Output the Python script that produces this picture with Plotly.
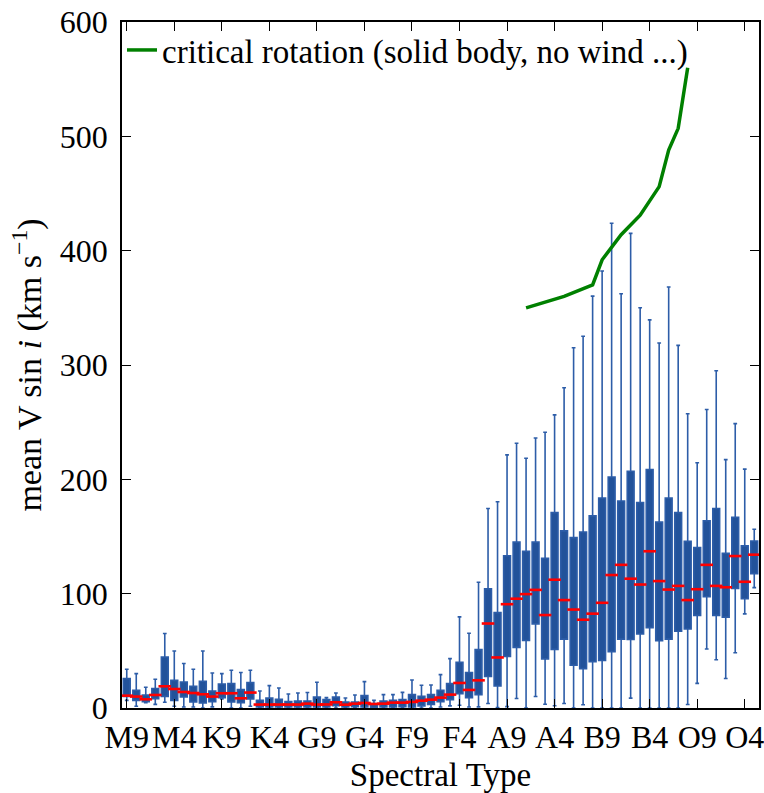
import plotly.graph_objects as go

# Spectral types from M9 down to O3
classes = ["M", "K", "G", "F", "A", "B"]
spectral_types = [c + str(n) for c in classes for n in range(9, -1, -1)] + ["O" + str(n) for n in range(9, 2, -1)]

tick_labels = ["M9", "M4", "K9", "K4", "G9", "G4", "F9", "F4", "A9", "A4", "B9", "B4", "O9", "O4"]

lower = [6.7, 1.5, 4.7, 3.2, 5, 1.5, 0.9, 0.9, 0, 1,
         7.9, 0, 0, 1.5, 0, 0, 0, 0, 0, 0,
         0, 0, 0, 0, 0, 0, 0, 0, 0, 0,
         0, 0, 0, 0.9, 1.9, 2.4, 0.9, 1, 3.9, 0.5,
         1.2, 8.3, 0, 10, 3.3, 2, 3.9, 0, 2.8, 0,
         0, 0, 0, 8.6, 0, 0, 0, 0, 0, 3,
         21.5, 51.6, 42.2, 25.8, 48.3, 82.3, 105.3]
q1 = [10.2, 6.7, 5.6, 8.2, 10.2, 6.7, 9.6, 5.3, 4.4, 5.6,
      9.1, 5.3, 4.7, 7.9, 0.9, 0.9, 0.9, 0.9, 0.9, 0.9,
      0.9, 0.9, 2.1, 0.9, 1.2, 1, 0.5, 0.9, 0.9, 1.2,
      0.9, 1.9, 3.2, 5.6, 7.3, 12.6, 9.1, 11.7, 27.5, 19.3,
      45, 53, 59, 73.6, 43, 51.3, 60.2, 37.4, 34.4, 40.4,
      41.5, 49.3, 60.2, 59.9, 64.7, 70.3, 58.8, 60.2, 67.1, 69.1,
      81, 97.3, 81, 79.5, 104.5, 95.5, 117.5]
median = [10.8, 10, 7.6, 11.4, 19, 16.6, 14, 13.1, 12, 10,
          12.9, 12.9, 8.5, 13.5, 3, 3, 3, 3, 3, 3.8,
          3, 3.1, 5, 2.9, 3.8, 4.4, 3.5, 3.8, 4.7, 4.7,
          5.3, 6.4, 7.3, 9.1, 11.7, 21.9, 15.8, 24.2, 73.9, 44.2,
          90.8, 95.6, 99.6, 103.3, 81.3, 112.2, 94.4, 86.1, 77.2, 82.5,
          92, 116.3, 125.2, 113.1, 108, 137.1, 111, 103.6, 106.8, 94.4,
          103.9, 125.2, 106.8, 105.6, 132.9, 110.4, 134.1]
q3 = [25.7, 15.5, 11.4, 17, 44.6, 24.2, 22.8, 19, 23.4, 14.9,
      21, 21.3, 16.1, 22.2, 6.7, 8.8, 7.6, 5.6, 6.1, 6.1,
      9.6, 7.4, 9.6, 5.3, 5.3, 10.8, 3.8, 6.1, 6.7, 7.3,
      11.7, 10.2, 11.7, 15.5, 21.3, 40, 31, 51.1, 104.2, 83.4,
      133.2, 145.1, 137.1, 145.1, 130.9, 170.9, 154.9, 149, 154, 168,
      183.7, 202.1, 181, 207.1, 179.8, 208.6, 162.6, 183.7, 170.9, 145.7,
      140.4, 163.8, 174.5, 135.3, 166.8, 141.8, 146]
upper = [33.9, 30.1, 18.1, 25.1, 65.1, 49.9, 38.9, 33.9, 49.9, 30.6,
         30.1, 33, 31, 33, 14.9, 19.6, 17.5, 12.3, 13.1, 13.5,
         22.5, 9.1, 13.1, 8.8, 11.4, 23.1, 6.7, 11.7, 11.7, 13.7,
         24.5, 19.9, 20.1, 29.2, 43.2, 79.7, 65.4, 110, 174.5, 180.4,
         221.4, 231.5, 218.4, 236.2, 241.2, 256.4, 280.1, 315.1, 325.2, 360.2,
         382.2, 424, 362.3, 415.1, 350.1, 339.5, 319.3, 368.2, 317.2, 257.3,
         214.5, 261.1, 295, 217.2, 248.7, 208.9, 156.4]

crit_types = ["A7", "A3", "A0", "B9", "B7", "B5", "B3", "B2", "B1", "B0"]
crit_values = [350, 360, 370, 392, 414, 431, 456, 488, 507, 560]

FONT = "Liberation Serif"

fig = go.Figure()
fig.add_trace(go.Box(
    x=spectral_types, q1=q1, median=median, q3=q3,
    lowerfence=lower, upperfence=upper,
    boxpoints=False, width=0.72, whiskerwidth=0.55,
    fillcolor="#22529a", line=dict(color="#2d5da8", width=1.6),
    showlegend=False, hoverinfo="skip",
))
fig.add_trace(go.Scatter(
    x=spectral_types, y=median, mode="markers",
    marker=dict(symbol="line-ew", size=9, line=dict(width=2.6, color="#ff0000")),
    showlegend=False, hoverinfo="skip",
))
fig.add_trace(go.Scatter(
    x=crit_types, y=crit_values, mode="lines",
    line=dict(color="#008000", width=3.5),
    name="critical rotation (solid body, no wind ...)",
))

axis_common = dict(
    showline=True, linecolor="black", linewidth=1.6, mirror="ticks",
    ticks="inside", ticklen=9, tickwidth=1.3, tickcolor="black",
    showgrid=False, zeroline=False, automargin=False,
    tickfont=dict(family=FONT, size=32, color="black"),
)

fig.update_xaxes(
    type="category", categoryorder="array", categoryarray=spectral_types,
    range=[-0.5, 66.5], tickmode="array",
    tickvals=tick_labels, ticktext=tick_labels,
    title=dict(text="Spectral Type", font=dict(family=FONT, size=33, color="black"), standoff=12),
    ticklabelstandoff=0,
    **axis_common,
)
fig.update_yaxes(
    range=[0, 600], tickmode="array", tickvals=[0, 100, 200, 300, 400, 500, 600],
    title=dict(text="mean V sin <i>i</i> (km s<sup>\u22121</sup>)",
               font=dict(family=FONT, size=34, color="black"), standoff=8),
    ticklabelstandoff=6,
    **axis_common,
)

fig.update_layout(
    width=764, height=793,
    margin=dict(l=122, r=5, t=22, b=85),
    plot_bgcolor="white", paper_bgcolor="white",
    legend=dict(x=0.0, y=1.0, xanchor="left", yanchor="top",
                bgcolor="rgba(0,0,0,0)", font=dict(family=FONT, size=33, color="black"),
                itemwidth=30, tracegroupgap=0),
)

fig.write_html("out.html", config={"displayModeBar": False},
               post_script="document.body.style.margin='0';document.body.style.overflow='hidden';")
